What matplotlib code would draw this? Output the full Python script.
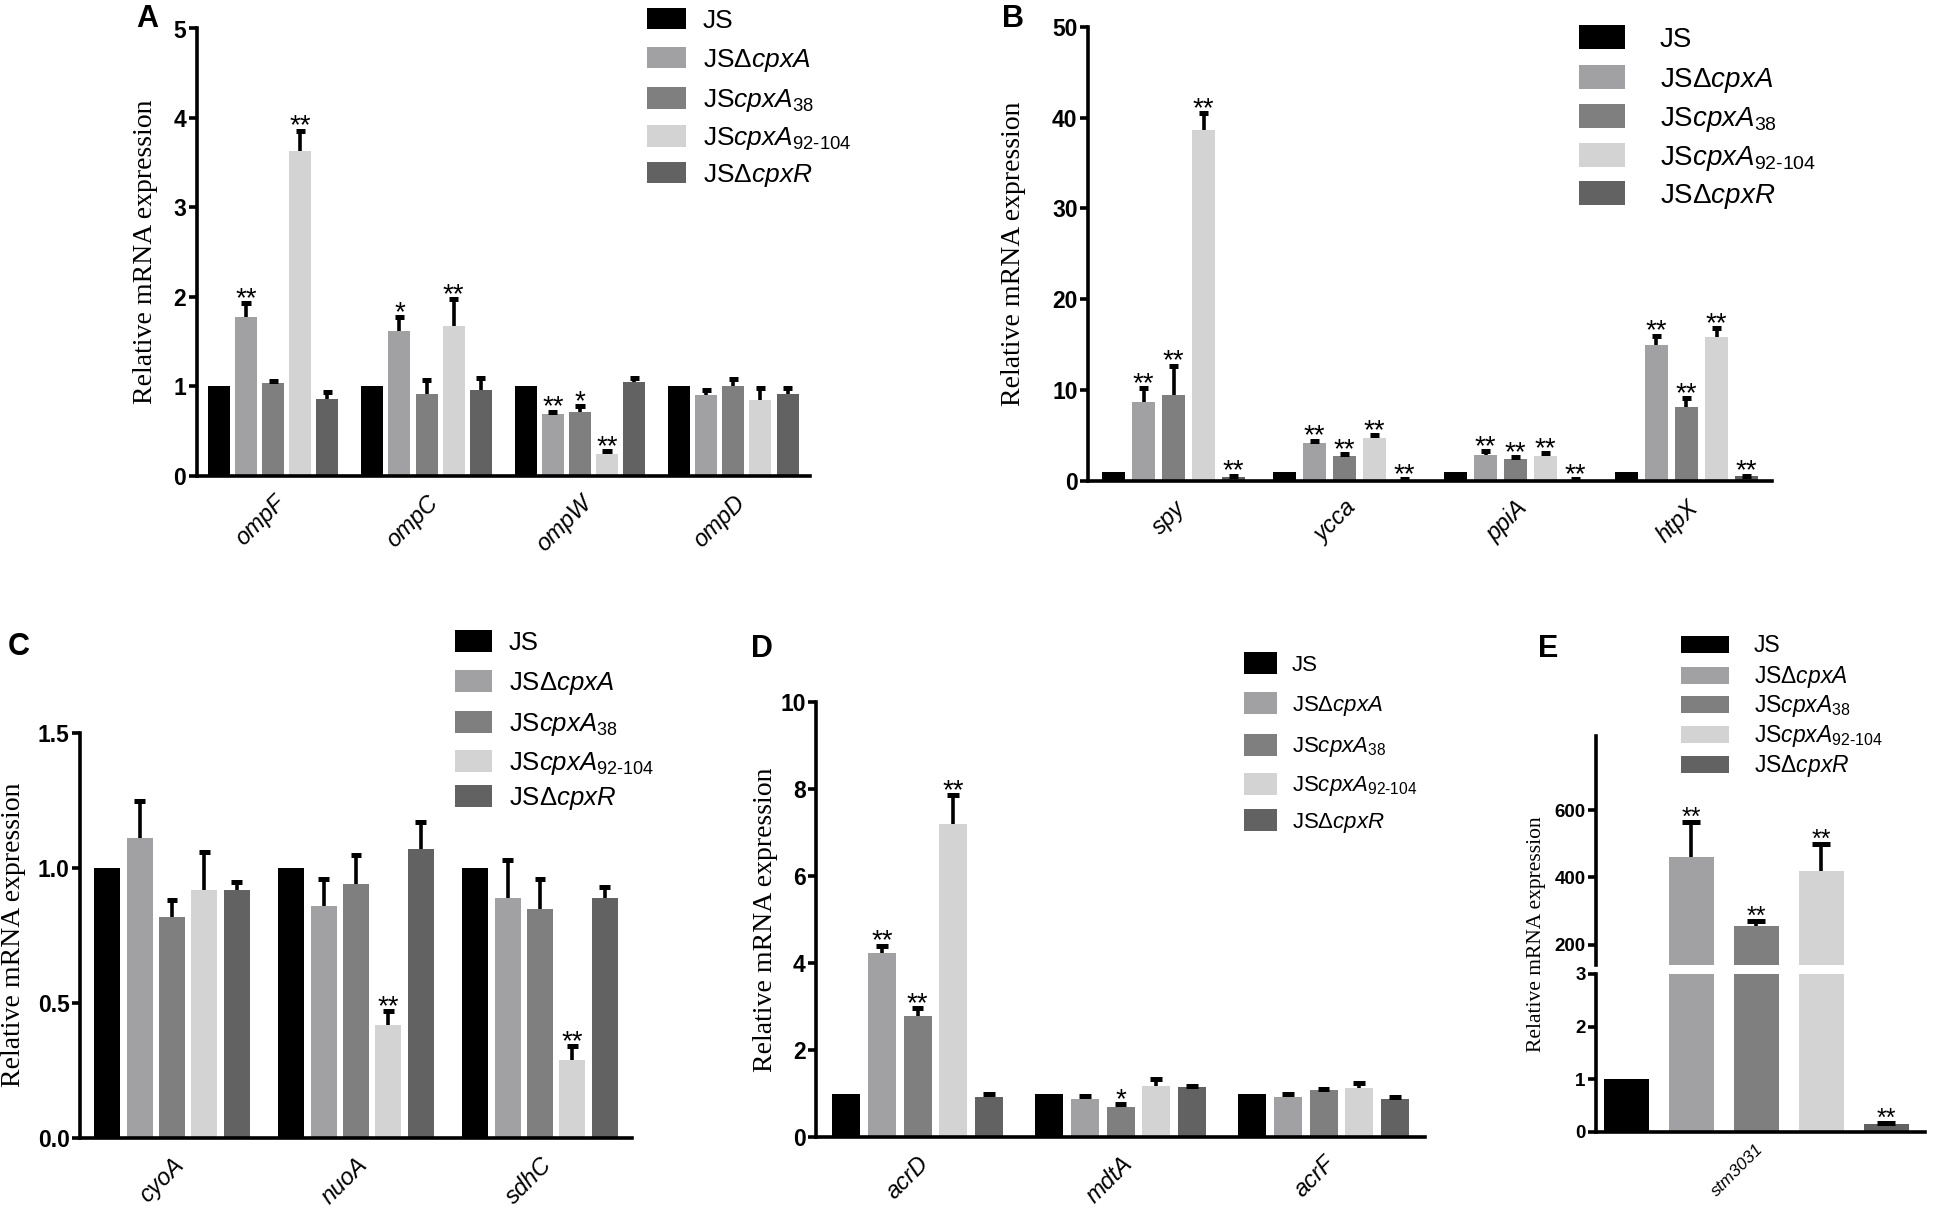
import matplotlib
matplotlib.use('Agg')
import matplotlib.pyplot as plt
from matplotlib import font_manager as fm
from matplotlib.patches import Rectangle
import numpy as np

W, H, DPI = 1950, 1219, 100

names = {f.name for f in fm.fontManager.ttflist}
SANS = 'Liberation Sans' if 'Liberation Sans' in names else 'DejaVu Sans'
SERIF = 'Liberation Serif' if 'Liberation Serif' in names else 'DejaVu Serif'


def bold_file(name):
    for f in fm.fontManager.ttflist:
        fn = f.fname.lower()
        if f.name == name and 'bold' in fn and 'italic' not in fn and 'oblique' not in fn:
            return f.fname
    return None


_bf = bold_file('Liberation Sans Narrow') or bold_file(SANS)


def tick_fp(size):
    if _bf:
        return fm.FontProperties(fname=_bf, size=size)
    return fm.FontProperties(family=SANS, weight='bold', size=size)


plt.rcParams['font.family'] = [SANS, 'DejaVu Sans']
plt.rcParams['mathtext.fontset'] = 'custom'
plt.rcParams['mathtext.rm'] = SANS
plt.rcParams['mathtext.it'] = SANS + ':italic'
plt.rcParams['mathtext.bf'] = SANS + ':bold'

# ---------------- data ----------------
strains = ['JS', 'JSΔcpxA', 'JScpxA38', 'JScpxA92-104', 'JSΔcpxR']
legend_labels = ['JS', r'JS$\mathit{ΔcpxA}$', r'JS$\mathit{cpxA}_{\mathit{38}}$',
                 r'JS$\mathit{cpxA}_{\mathit{92‐104}}$', r'JS$\mathit{ΔcpxR}$']
colors = ['#000000', '#a1a1a4', '#7f7f7f', '#d3d3d3', '#626262']

# Panel A
A_genes = ['ompF', 'ompC', 'ompW', 'ompD']
A_mean = [[1.0, 1.0, 1.0, 1.0],
          [1.78, 1.62, 0.69, 0.90],
          [1.04, 0.92, 0.71, 1.00],
          [3.63, 1.68, 0.25, 0.85],
          [0.86, 0.96, 1.05, 0.92]]
A_top = [[1.0, 1.0, 1.0, 1.0],
         [1.93, 1.78, 0.72, 0.96],
         [1.06, 1.07, 0.78, 1.08],
         [3.86, 1.98, 0.28, 0.98],
         [0.94, 1.09, 1.10, 0.98]]
A_stars = [['', '', '', ''],
           ['**', '*', '**', ''],
           ['', '', '*', ''],
           ['**', '**', '**', ''],
           ['', '', '', '']]

# Panel B
B_genes = ['spy', 'ycca', 'ppiA', 'htpX']
B_mean = [[1.0, 1.0, 1.0, 1.0],
          [8.7, 4.2, 2.9, 15.0],
          [9.5, 2.7, 2.4, 8.1],
          [38.6, 4.7, 2.8, 15.9],
          [0.45, 0.15, 0.15, 0.5]]
B_top = [[1.0, 1.0, 1.0, 1.0],
         [10.2, 4.45, 3.3, 16.0],
         [12.7, 3.0, 2.65, 9.1],
         [40.5, 5.1, 3.05, 16.8],
         [0.6, 0.2, 0.2, 0.6]]
B_stars = [['', '', '', ''],
           ['**', '**', '**', '**'],
           ['**', '**', '**', '**'],
           ['**', '**', '**', '**'],
           ['**', '**', '**', '**']]

# Panel C
C_genes = ['cyoA', 'nuoA', 'sdhC']
C_mean = [[1.0, 1.0, 1.0],
          [1.11, 0.86, 0.89],
          [0.82, 0.94, 0.85],
          [0.92, 0.42, 0.29],
          [0.92, 1.07, 0.89]]
C_top = [[1.0, 1.0, 1.0],
         [1.25, 0.96, 1.03],
         [0.88, 1.05, 0.96],
         [1.06, 0.47, 0.34],
         [0.95, 1.17, 0.93]]
C_stars = [['', '', ''],
           ['', '', ''],
           ['', '', ''],
           ['', '**', '**'],
           ['', '', '']]

# Panel D
D_genes = ['acrD', 'mdtA', 'acrF']
D_mean = [[1.0, 1.0, 1.0],
          [4.22, 0.88, 0.93],
          [2.78, 0.68, 1.07],
          [7.19, 1.18, 1.12],
          [0.92, 1.15, 0.88]]
D_top = [[1.0, 1.0, 1.0],
         [4.40, 0.94, 0.98],
         [2.97, 0.76, 1.10],
         [7.86, 1.33, 1.25],
         [1.00, 1.18, 0.92]]
D_stars = [['', '', ''],
           ['**', '', ''],
           ['**', '*', ''],
           ['**', '', ''],
           ['', '', '']]

# Panel E
E_genes = ['stm3031']
E_mean = [[1.0], [460.0], [255.0], [420.0], [0.15]]
E_top = [[1.0], [565.0], [272.0], [500.0], [0.18]]
E_stars = [[''], ['**'], ['**'], ['**'], ['**']]

# ---------------- figure ----------------
fig = plt.figure(figsize=(W / DPI, H / DPI), dpi=DPI)
fig.patch.set_facecolor('white')


def fy(y):
    return 1 - y / H


def make_axes(x0, x1, ytop, ybot):
    return fig.add_axes([x0 / W, 1 - ybot / H, (x1 - x0) / W, (ybot - ytop) / H])


def style(ax, yticks, ylabels, xlim, ylim, genes=None, show_bottom=True,
          yfs=16.5, xfs=17, xpad=11):
    for s in ['top', 'right']:
        ax.spines[s].set_visible(False)
    ax.spines['left'].set_linewidth(2.6)
    ax.spines['bottom'].set_linewidth(2.6)
    if not show_bottom:
        ax.spines['bottom'].set_visible(False)
    ax.set_xlim(*xlim)
    ax.set_ylim(*ylim)
    ax.set_yticks(yticks)
    ax.set_yticklabels(ylabels, fontproperties=tick_fp(yfs))
    ax.tick_params(axis='y', direction='out', length=6, width=2.6, pad=1.5)
    if genes is not None:
        ax.set_xticks(np.arange(len(genes)))
        ax.set_xticklabels(genes, rotation=45, ha='right', va='top',
                           rotation_mode='anchor', fontstyle='italic', fontsize=xfs)
        ax.tick_params(axis='x', length=0, pad=xpad)
    else:
        ax.set_xticks([])


def draw(ax, n, means, tops, stars, bp, bw, cap_frac=0.42, star_ylim=None, sfs=20):
    centers = np.arange(n)
    for j in range(5):
        xs = centers + (j - 2) * bp
        m = np.array(means[j], dtype=float)
        t = np.array(tops[j], dtype=float)
        ax.bar(xs, m, width=bw, color=colors[j], edgecolor='none', zorder=2)
        for k in range(n):
            if t[k] > m[k] + 1e-9:
                ax.vlines(xs[k], m[k], t[k], colors='black', lw=2.6, zorder=3)
                ax.hlines(t[k], xs[k] - bw * cap_frac / 2, xs[k] + bw * cap_frac / 2,
                          colors='black', lw=3.6, zorder=3)
            if stars[j][k]:
                y = max(t[k], m[k])
                if star_ylim is not None and not (star_ylim[0] <= y <= star_ylim[1]):
                    continue
                ax.annotate(stars[j][k], xy=(xs[k], y), xytext=(0, -2.2),
                            textcoords='offset points', ha='center', va='baseline',
                            fontsize=sfs, zorder=4, annotation_clip=False)


def legend(x_sw, w_sw, h_sw, rows, x_txt, fs):
    fs_px = fs * DPI / 72.0
    for j, yc in enumerate(rows):
        fig.add_artist(Rectangle((x_sw / W, fy(yc + h_sw / 2)), w_sw / W, h_sw / H,
                                 transform=fig.transFigure, facecolor=colors[j],
                                 edgecolor='none'))
        fig.text(x_txt / W, fy(yc + 0.358 * fs_px), legend_labels[j], fontsize=fs,
                 ha='left', va='baseline')


def ylabel(x, y, fs=20):
    fig.text(x / W, fy(y), 'Relative mRNA expression', rotation=90, ha='center',
             va='center', family=SERIF, fontsize=fs)


def letter(x, y, s):
    fig.text(x / W, fy(y), s, fontsize=22, fontweight='bold', ha='left', va='baseline')


# Panel A
axA = make_axes(196.5, 810, 28.5, 476)
draw(axA, 4, A_mean, A_top, A_stars, 27.1 / 153.4, 22 / 153.4)
style(axA, [0, 1, 2, 3, 4, 5], ['0', '1', '2', '3', '4', '5'], (-0.5, 3.5), (0, 5), A_genes)
ylabel(146, 252)
letter(136, 27, 'A')
legend(647, 39, 21, [18.5, 57.5, 98, 136, 172.5], 703, 19)

# Panel B
axB = make_axes(1088, 1772, 26.7, 481)
draw(axB, 4, B_mean, B_top, B_stars, 30 / 171, 23 / 171)
style(axB, [0, 10, 20, 30, 40, 50], ['0', '10', '20', '30', '40', '50'], (-0.5, 3.5), (0, 50), B_genes)
ylabel(1014, 254)
letter(1002, 27, 'B')
legend(1579, 46, 24, [37, 77, 116, 155, 193], 1660, 20)

# Panel C
axC = make_axes(80, 632, 733, 1138)
draw(axC, 3, C_mean, C_top, C_stars, 32.4 / 184, 26 / 184)
style(axC, [0, 0.5, 1.0, 1.5], ['0.0', '0.5', '1.0', '1.5'], (-0.5, 2.5), (0, 1.5), C_genes)
ylabel(14, 935)
letter(8, 655, 'C')
legend(455, 37, 22, [641, 681, 721.5, 760.5, 796], 509, 18.5)

# Panel D
axD = make_axes(816, 1425, 702, 1137)
draw(axD, 3, D_mean, D_top, D_stars, 35.7 / 203, 28 / 203)
style(axD, [0, 2, 4, 6, 8, 10], ['0', '2', '4', '6', '8', '10'], (-0.5, 2.5), (0, 10), D_genes)
ylabel(765, 920)
letter(751, 657, 'D')
legend(1244, 33, 22, [663, 703, 744.5, 783.5, 820], 1292, 16)

# Panel E (broken axis)
E_xlim = (-160 / 329, 169 / 329)
E_up = (140, 820)
E_low = (0, 3)
axEu = make_axes(1596, 1925, 736, 965)
axEl = make_axes(1596, 1925, 974, 1132)
draw(axEu, 1, E_mean, E_top, E_stars, 65 / 329, 45 / 329, star_ylim=E_up, sfs=18)
draw(axEl, 1, E_mean, E_top, E_stars, 65 / 329, 45 / 329, star_ylim=E_low, sfs=18)
style(axEu, [200, 400, 600], ['200', '400', '600'], E_xlim, E_up, None,
      show_bottom=False, yfs=13.5)
style(axEl, [0, 1, 2, 3], ['0', '1', '2', '3'], E_xlim, E_low, E_genes,
      yfs=13.5, xfs=12.5, xpad=7)
ylabel(1537, 934, fs=15.5)
letter(1538, 657, 'E')
legend(1681, 48, 17, [644, 675, 704, 734, 764], 1754, 16.5)

fig.savefig('out.png', dpi=DPI, facecolor='white')
